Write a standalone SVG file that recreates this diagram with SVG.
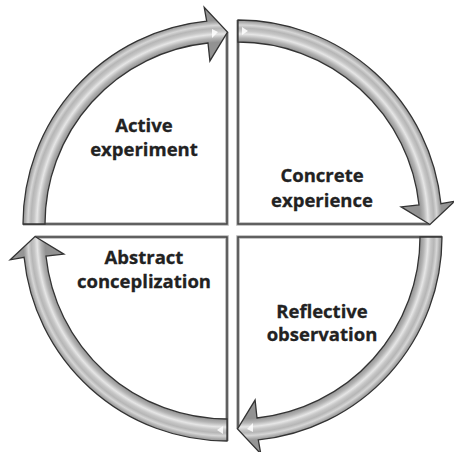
<svg xmlns="http://www.w3.org/2000/svg" width="454" height="452" viewBox="0 0 454 452">
  <defs>
    <radialGradient id="g" gradientUnits="userSpaceOnUse" cx="0" cy="0" r="230">
      <stop offset="0.70" stop-color="#929292"/>
      <stop offset="0.791" stop-color="#929292"/>
      <stop offset="0.809" stop-color="#b4b4b4"/>
      <stop offset="0.826" stop-color="#e6e6e6"/>
      <stop offset="0.839" stop-color="#c6c6c6"/>
      <stop offset="0.852" stop-color="#b6b6b6"/>
      <stop offset="0.865" stop-color="#d6d6d6"/>
      <stop offset="0.878" stop-color="#aaaaaa"/>
      <stop offset="0.887" stop-color="#959595"/>
      <stop offset="1" stop-color="#959595"/>
    </radialGradient>
    <path id="arrow" d="M -204 0 A 204 204 0 0 1 -20.3 -202.9 L -22.8 -216.8 L 0.5 -192 L -17.1 -163.1 L -19.0 -181.0 A 182 182 0 0 0 -182 0 Z"/>
    <path id="box" d="M 0 -192 L 0 0 L -204 0"/>
  </defs>
  <style>
    .halo { fill: none; stroke: #b4b4b4; stroke-width: 3.6; }
    .edge { fill: none; stroke: #444; stroke-width: 1.5; }
    .arr { fill: url(#g); stroke: #333; stroke-width: 1.3; stroke-linejoin: miter; }
    .hl { fill: #ffffff; opacity: 0.85; }
    .lbl { font-family: "Open Sans", "Liberation Sans", sans-serif; font-weight: bold; font-size: 18.5px; fill: #222; stroke: #222; stroke-width: 0.3; text-anchor: middle; }
  </style>
  <g id="connectors">
    <g transform="translate(227,224)">
      <use href="#box" class="halo"/><use href="#box" class="edge"/>
      <use href="#arrow" class="arr"/>
      <polygon class="hl" points="-15,-186 -15,-195 -9,-192"/>
    </g>
    <g transform="translate(238,224) rotate(90)">
      <use href="#box" class="halo"/><use href="#box" class="edge"/>
      <use href="#arrow" class="arr"/>
      <polygon class="hl" points="-197,-4 -189,-4 -193,-10"/>
    </g>
    <g transform="translate(238,237) rotate(180)">
      <use href="#box" class="halo"/><use href="#box" class="edge"/>
      <use href="#arrow" class="arr"/>
      <polygon class="hl" points="-15,-186 -15,-195 -9,-192"/>
    </g>
    <g transform="translate(227,237) rotate(270)">
      <use href="#box" class="halo"/><use href="#box" class="edge"/>
      <use href="#arrow" class="arr"/>
      <polygon class="hl" points="-197,-4 -189,-4 -193,-10"/>
    </g>
  </g>
  <g id="active-experiment">
    <text class="lbl" x="144" y="132">Active</text>
    <text class="lbl" x="144" y="156">experiment</text>
  </g>
  <g id="concrete-experience">
    <text class="lbl" x="322" y="182">Concrete</text>
    <text class="lbl" x="322" y="207">experience</text>
  </g>
  <g id="reflective-observation">
    <text class="lbl" x="322" y="318">Reflective</text>
    <text class="lbl" x="322" y="341">observation</text>
  </g>
  <g id="abstract-conceplization">
    <text class="lbl" x="144" y="264">Abstract</text>
    <text class="lbl" x="144" y="288">conceplization</text>
  </g>
</svg>
